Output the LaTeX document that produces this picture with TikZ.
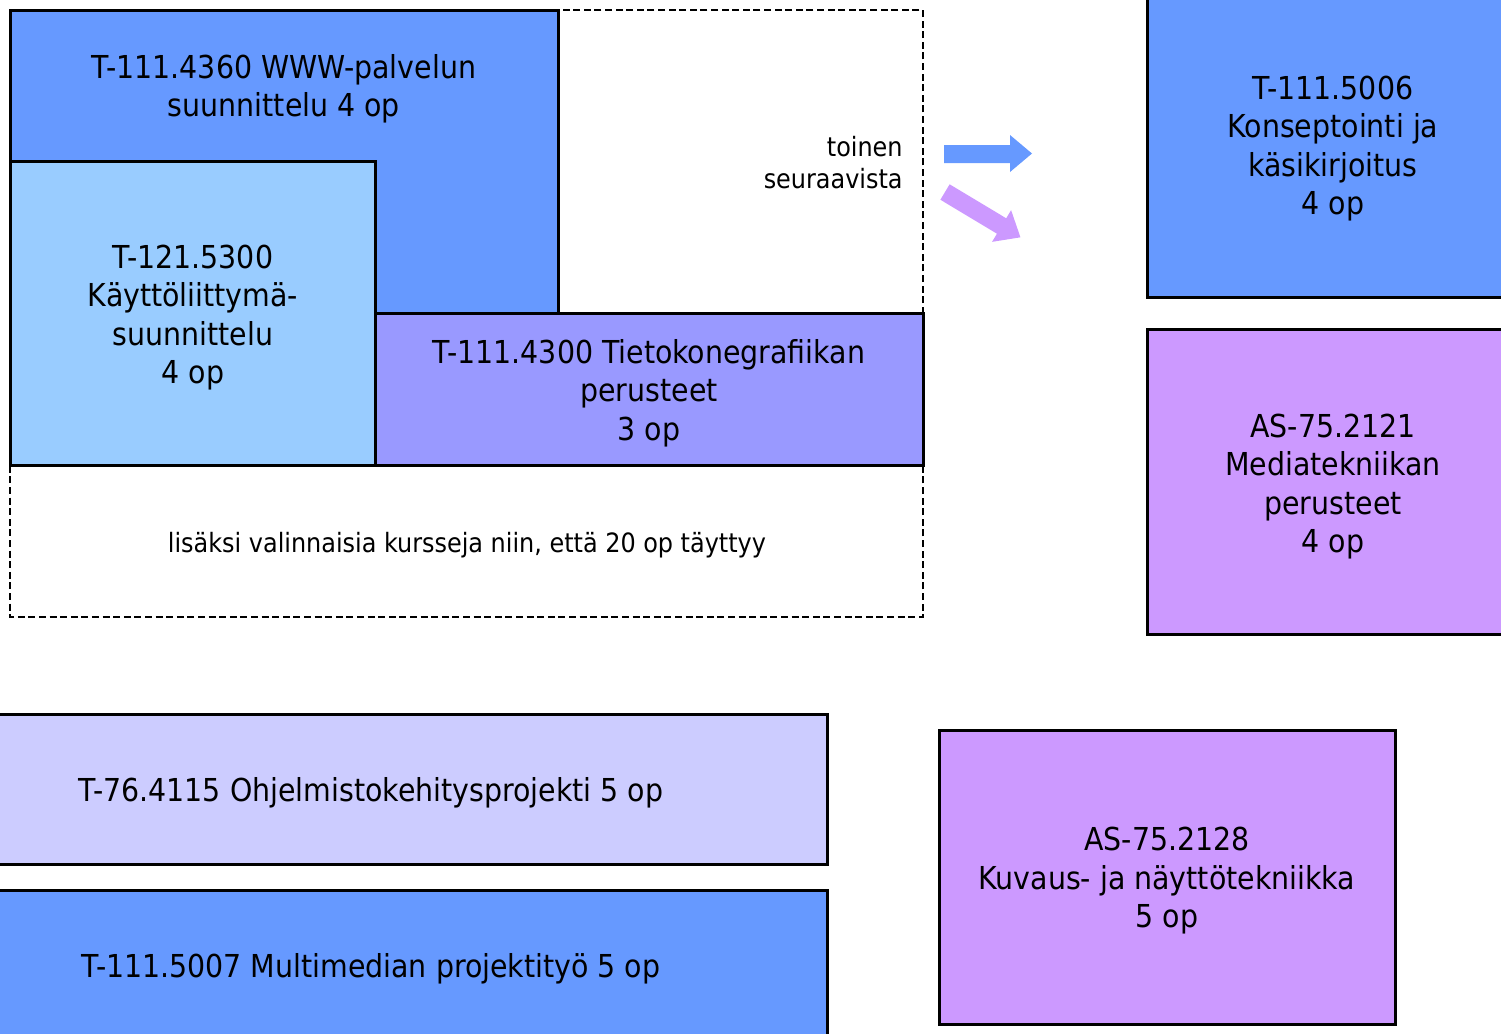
\documentclass[tikz,border=0pt]{standalone}
\usepackage{fontspec}
\setmainfont{DejaVu Sans Condensed}
\definecolor{cblue}{HTML}{6699FF}
\definecolor{clight}{HTML}{99CCFF}
\definecolor{cviolet}{HTML}{9999FF}
\definecolor{cpurple}{HTML}{CC99FF}
\definecolor{cpale}{HTML}{CCCCFF}
\begin{document}
\begin{tikzpicture}[x=0.5pt,y=-0.5pt,
  course/.style={draw=black,line width=1.5pt},
  big/.style={font=\fontsize{15.8}{19.25}\selectfont,align=center,inner sep=0pt},
  small/.style={font=\fontsize{13.3}{16}\selectfont,inner sep=0pt},
  dashbox/.style={draw=black,line width=1.1pt,dash pattern=on 3.5pt off 1.8pt}]
\useasboundingbox (0,0) rectangle (1501,1034);
\clip (0,0) rectangle (1501,1034);
% dashed frame
\draw[dashbox] (10,10) rectangle (923,617);
% WWW L-shape
\draw[course,fill=cblue] (10,10) rectangle (558,313);
\node[big] (www) at (284,89) {T-111.4360 WWW-palvelun\\suunnittelu 4 op};
% Kayttoliittyma
\draw[course,fill=clight] (10,161) rectangle (375,465);
\node[big] (ui) at (193,317.5) {T-121.5300\\Käyttöliittymä-\\suunnittelu\\4 op};
% Tietokonegrafiikka
\draw[course,fill=cviolet] (375,313) rectangle (923,465);
\node[big] (tg) at (649,393) {T-111.4300 Tietokonegrafiikan\\perusteet\\3 op};
% notes
\node[small,align=right,anchor=east] (toinen) at (903,163) {toinen\\seuraavista};
\node[small] (lisaksi) at (467,545) {lisäksi valinnaisia kursseja niin, että 20 op täyttyy};
% arrows
\fill[cblue] (944,145) -- (1010,145) -- (1010,135) -- (1032,153.5) -- (1010,172) -- (1010,163) -- (944,163) -- cycle;
\begin{scope}[shift={(945,192)},rotate=-31]
\fill[cpurple] (0,-9) -- (66,-9) -- (66,-18.5) -- (88,0) -- (66,18.5) -- (66,9) -- (0,9) -- cycle;
\end{scope}
% right boxes
\draw[course,fill=cblue] (1147,-10) rectangle (1520,297);
\node[big] (konsept) at (1333,148.5) {T-111.5006\\Konseptointi ja\\käsikirjoitus\\4 op};
\draw[course,fill=cpurple] (1147,329) rectangle (1520,634);
\node[big] (media) at (1333,486.5) {AS-75.2121\\Mediatekniikan\\perusteet\\4 op};
% bottom boxes
\draw[course,fill=cpale] (-10,714) rectangle (827,864);
\node[big] (ohj) at (371,793) {T-76.4115 Ohjelmistokehitysprojekti 5 op};
\draw[course,fill=cblue] (-10,890) rectangle (827,1050);
\node[big] (mm) at (371,969) {T-111.5007 Multimedian projektityö 5 op};
\draw[course,fill=cpurple] (939,730) rectangle (1395,1024);
\node[big] (kuvaus) at (1167,881) {AS-75.2128\\Kuvaus- ja näyttötekniikka\\5 op};
\end{tikzpicture}
\end{document}
